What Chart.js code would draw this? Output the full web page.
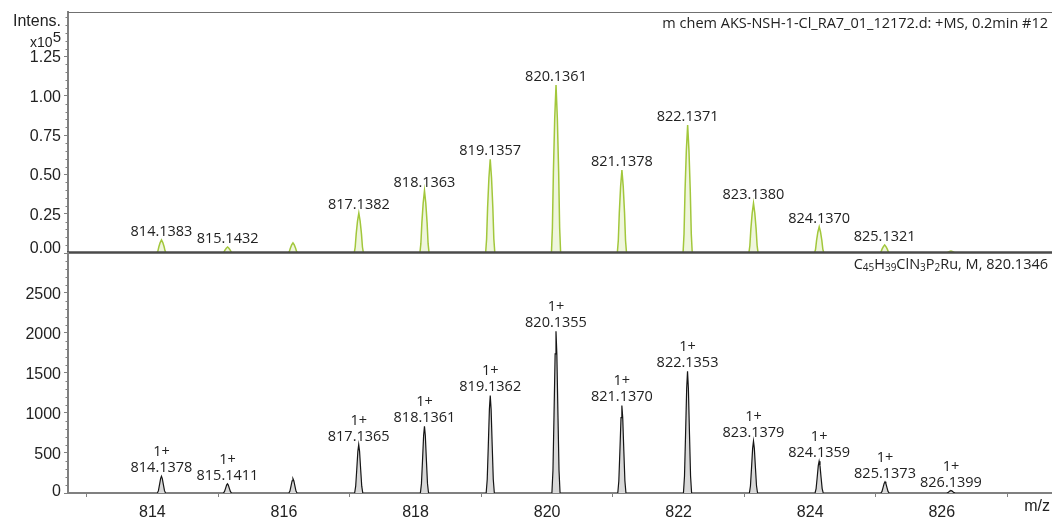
<!DOCTYPE html>
<html>
<head>
<meta charset="utf-8">
<script src="https://cdn.jsdelivr.net/npm/chart.js@4.4.1/dist/chart.umd.min.js"></script>
<style>
  html, body { margin: 0; padding: 0; background: #fff; }
  #wrap { position: relative; width: 1052px; height: 517px; overflow: hidden; }
  canvas { position: absolute; left: 0; }
  #msTop { top: 0; }
  #msBot { top: 252px; }
</style>
</head>
<body>
<div id="wrap">
  <canvas id="msTop" width="1052" height="256"></canvas>
  <canvas id="msBot" width="1052" height="265"></canvas>
</div>
<script>
// Measured spectrum (+MS, 0.2 min #12): peak m/z and intensity in units of 10^5
const measuredMz  = [814.1383, 815.1432, 816.1370, 817.1382, 818.1363, 819.1357, 820.1361, 821.1378, 822.1371, 823.1380, 824.1370, 825.1321, 826.1400];
const measuredInt = [0.083, 0.038, 0.064, 0.254, 0.396, 0.596, 1.069, 0.528, 0.814, 0.316, 0.167, 0.051, 0.012];
const measuredLabeled = [true, true, false, true, true, true, true, true, true, true, true, true, false];

// Simulated isotope pattern for C45H39ClN3P2Ru
const simMz     = [814.1378, 815.1411, 816.1370, 817.1365, 818.1361, 819.1362, 820.1355, 821.1370, 822.1353, 823.1379, 824.1359, 825.1373, 826.1399];
const simInt    = [210, 115, 178, 606, 835, 1219, 2022, 1094, 1522, 648, 398, 140, 31];
const simCharge = ['1+', '1+', null, '1+', '1+', '1+', '1+', '1+', '1+', '1+', '1+', '1+', '1+'];

// Axis ticks
const xTicks    = [813, 814, 815, 816, 817, 818, 819, 820, 821, 822, 823, 824, 825, 826, 827];
const yTopTicks = [0, 0.25, 0.5, 0.75, 1.0, 1.25];
const yBotTicks = [0, 500, 1000, 1500, 2000, 2500];

// Axis ranges
const X_MIN = 812.717, X_MAX = 827.676;
const TOP_MAX = 1.533, BOT_MAX = 3012;

// Peak profile templates: [m/z offset, fraction of peak height]
const SHAPE_TOP = [[-0.07,0],[-0.055,0.15],[-0.04,0.48],[-0.02,0.8],[0,1],[0.02,0.8],[0.04,0.48],[0.055,0.15],[0.07,0]];
const SHAPE_BOT = [[-0.062,0],[-0.046,0.14],[-0.03,0.48],[-0.013,0.86],[0,1],[0.013,0.86],[0.03,0.48],[0.046,0.14],[0.062,0]];

const TEXT = '#222';
const AXIS = '#808080';
const TICK_FONT = { family: 'Liberation Sans', size: 16, lineHeight: 1.25 };
const LABEL_FONT = '14.5px "Open Sans"';

function profile(mz, inten, shape) {
  const pts = [];
  mz.forEach((m, i) => {
    shape.forEach(([dx, f]) => pts.push({ x: m + dx, y: inten[i] * f }));
    pts.push({ x: m + 0.3, y: null });
  });
  return pts;
}

function drawMinorTicks(chart, id, step, majors) {
  const s = chart.scales[id];
  const ctx = chart.ctx;
  ctx.save();
  ctx.strokeStyle = AXIS;
  ctx.lineWidth = 1;
  const n = Math.floor(s.max / step + 1e-6);
  for (let k = 0; k <= n; k++) {
    const v = k * step;
    if (majors.some(m => Math.abs(m - v) < step / 10)) continue;
    const y = Math.round(s.getPixelForValue(v)) + 0.5;
    ctx.beginPath();
    ctx.moveTo(s.right - 2.5, y);
    ctx.lineTo(s.right, y);
    ctx.stroke();
  }
  ctx.restore();
}

// Text with sub/superscript runs, drawn right-aligned ending at xRight
function drawRuns(ctx, runs, xRight, baseline) {
  let total = 0;
  runs.forEach(r => { ctx.font = r.font; total += ctx.measureText(r.t).width; });
  let x = xRight - total;
  ctx.textAlign = 'left';
  ctx.textBaseline = 'alphabetic';
  runs.forEach(r => {
    ctx.font = r.font;
    ctx.fillText(r.t, x, baseline + (r.dy || 0));
    x += ctx.measureText(r.t).width;
  });
}

const yAxisFit = (scale) => { scale.width = 68; scale.paddingTop = 0; scale.paddingBottom = 0; };

const topDecor = {
  id: 'topDecor',
  afterDatasetsDraw(chart) {
    const ctx = chart.ctx;
    const { left, right, top, bottom } = chart.chartArea;
    const xs = chart.scales.x, ys = chart.scales.y;
    ctx.save();
    // frame line at the top of the panel
    ctx.strokeStyle = '#707070';
    ctx.lineWidth = 1;
    ctx.beginPath(); ctx.moveTo(left, top + 0.5); ctx.lineTo(right, top + 0.5); ctx.stroke();
    // heavy baseline separating the two panels
    ctx.strokeStyle = '#4a4a4a';
    ctx.lineWidth = 2.5;
    ctx.beginPath(); ctx.moveTo(left - 1, bottom - 0.5); ctx.lineTo(right, bottom - 0.5); ctx.stroke();

    // peak annotations
    ctx.fillStyle = TEXT;
    ctx.font = LABEL_FONT;
    ctx.textAlign = 'center';
    ctx.textBaseline = 'alphabetic';
    measuredMz.forEach((m, i) => {
      if (!measuredLabeled[i]) return;
      const px = xs.getPixelForValue(m);
      const py = ys.getPixelForValue(measuredInt[i]);
      ctx.fillText(m.toFixed(4), px, py - 4);
    });

    // spectrum title
    ctx.font = '14.5px "Open Sans"';
    ctx.textAlign = 'right';
    ctx.fillText('m chem AKS-NSH-1-Cl_RA7_01_12172.d: +MS, 0.2min #12', 1048, 28);

    // intensity axis caption
    ctx.font = '16px "Liberation Sans"';
    ctx.fillText('Intens.', 61, 26);
    drawRuns(ctx, [
      { t: 'x10', font: '14px "Liberation Sans"' },
      { t: '5', font: '15px "Liberation Sans"', dy: -5 }
    ], 61, 47);

    // zero label kept inside the panel
    ctx.font = '16px "Liberation Sans"';
    ctx.textAlign = 'right';
    ctx.textBaseline = 'middle';
    ctx.fillText((0).toFixed(2), ys.right - 7, ys.getPixelForValue(0) - 4);
    ctx.restore();

    drawMinorTicks(chart, 'y', 0.05, yTopTicks);
  }
};

const botDecor = {
  id: 'botDecor',
  afterDatasetsDraw(chart) {
    const ctx = chart.ctx;
    const xs = chart.scales.x, ys = chart.scales.y;
    ctx.save();
    ctx.fillStyle = TEXT;
    ctx.font = LABEL_FONT;
    ctx.textAlign = 'center';
    ctx.textBaseline = 'alphabetic';
    simMz.forEach((m, i) => {
      if (!simCharge[i]) return;
      const px = xs.getPixelForValue(m);
      const py = ys.getPixelForValue(simInt[i]);
      ctx.fillText(m.toFixed(4), px, py - 4);
      ctx.fillText(simCharge[i], px, py - 20);
    });

    // formula of the simulated ion
    const f = '14.5px "Open Sans"', sub = '10px "Open Sans"';
    drawRuns(ctx, [
      { t: 'C', font: f }, { t: '45', font: sub, dy: 2 },
      { t: 'H', font: f }, { t: '39', font: sub, dy: 2 },
      { t: 'ClN', font: f }, { t: '3', font: sub, dy: 2 },
      { t: 'P', font: f }, { t: '2', font: sub, dy: 2 },
      { t: 'Ru, M, 820.1346', font: f }
    ], 1048, 17);

    // axis unit
    ctx.font = '16px "Liberation Sans"';
    ctx.textAlign = 'right';
    ctx.textBaseline = 'alphabetic';
    ctx.fillText('m/z', 1050, 259);

    // zero label kept above the axis line
    ctx.textBaseline = 'middle';
    ctx.fillText('0', ys.right - 7, ys.getPixelForValue(0) - 1.5);
    ctx.restore();

    drawMinorTicks(chart, 'y', 100, yBotTicks);
  }
};

function xScale(showAxis) {
  return {
    type: 'linear',
    min: X_MIN,
    max: X_MAX,
    display: showAxis,
    afterBuildTicks: (s) => { s.ticks = xTicks.map(v => ({ value: v })); },
    afterFit: (s) => {
      s.height = showAxis ? 24 : 0;
      s.paddingLeft = 0;
      s.paddingRight = 0;
    },
    border: { display: true, color: AXIS, width: 2 },
    grid: {
      display: true,
      drawOnChartArea: false,
      drawTicks: true,
      tickLength: 4,
      tickColor: (c) => (c.tick && c.tick.value % 2 !== 0) ? AXIS : 'rgba(0,0,0,0)'
    },
    ticks: {
      autoSkip: false,
      maxRotation: 0,
      padding: 6,
      color: TEXT,
      font: TICK_FONT,
      callback: (v) => (v % 2 === 0) ? String(v) : ''
    }
  };
}

function yScale(max, majors, fmt) {
  return {
    type: 'linear',
    min: 0,
    max: max,
    afterBuildTicks: (s) => { s.ticks = majors.map(v => ({ value: v })); },
    afterFit: yAxisFit,
    border: { display: true, color: AXIS, width: 2 },
    grid: { display: true, drawOnChartArea: false, drawTicks: true, tickLength: 4, tickColor: AXIS },
    ticks: {
      padding: 3,
      labelOffset: 1.5,
      color: TEXT,
      font: TICK_FONT,
      callback: (v) => v === 0 ? '' : fmt(v)
    }
  };
}

const common = {
  responsive: false,
  animation: false,
  events: [],
  devicePixelRatio: 1,
  plugins: { legend: { display: false }, tooltip: { enabled: false } }
};

new Chart(document.getElementById('msTop'), {
  type: 'line',
  data: {
    datasets: [{
      data: profile(measuredMz, measuredInt, SHAPE_TOP),
      borderColor: '#a2c73b',
      backgroundColor: '#eff6dd',
      borderWidth: 1.5,
      pointRadius: 0,
      tension: 0,
      fill: 'origin',
      spanGaps: false
    }]
  },
  options: Object.assign({}, common, {
    layout: { padding: { top: 12, bottom: 3, left: 0, right: 0 } },
    scales: {
      x: xScale(false),
      y: yScale(TOP_MAX, yTopTicks, (v) => v.toFixed(2))
    }
  }),
  plugins: [topDecor]
});

new Chart(document.getElementById('msBot'), {
  type: 'line',
  data: {
    datasets: [{
      data: profile(simMz, simInt, SHAPE_BOT),
      borderColor: '#151515',
      backgroundColor: '#d9d9d9',
      borderWidth: 1.2,
      pointRadius: 0,
      tension: 0,
      fill: 'origin',
      spanGaps: false
    }]
  },
  options: Object.assign({}, common, {
    layout: { padding: { top: 0, bottom: 0, left: 0, right: 0 } },
    scales: {
      x: xScale(true),
      y: yScale(BOT_MAX, yBotTicks, (v) => String(v))
    }
  }),
  plugins: [botDecor]
});
</script>
</body>
</html>
